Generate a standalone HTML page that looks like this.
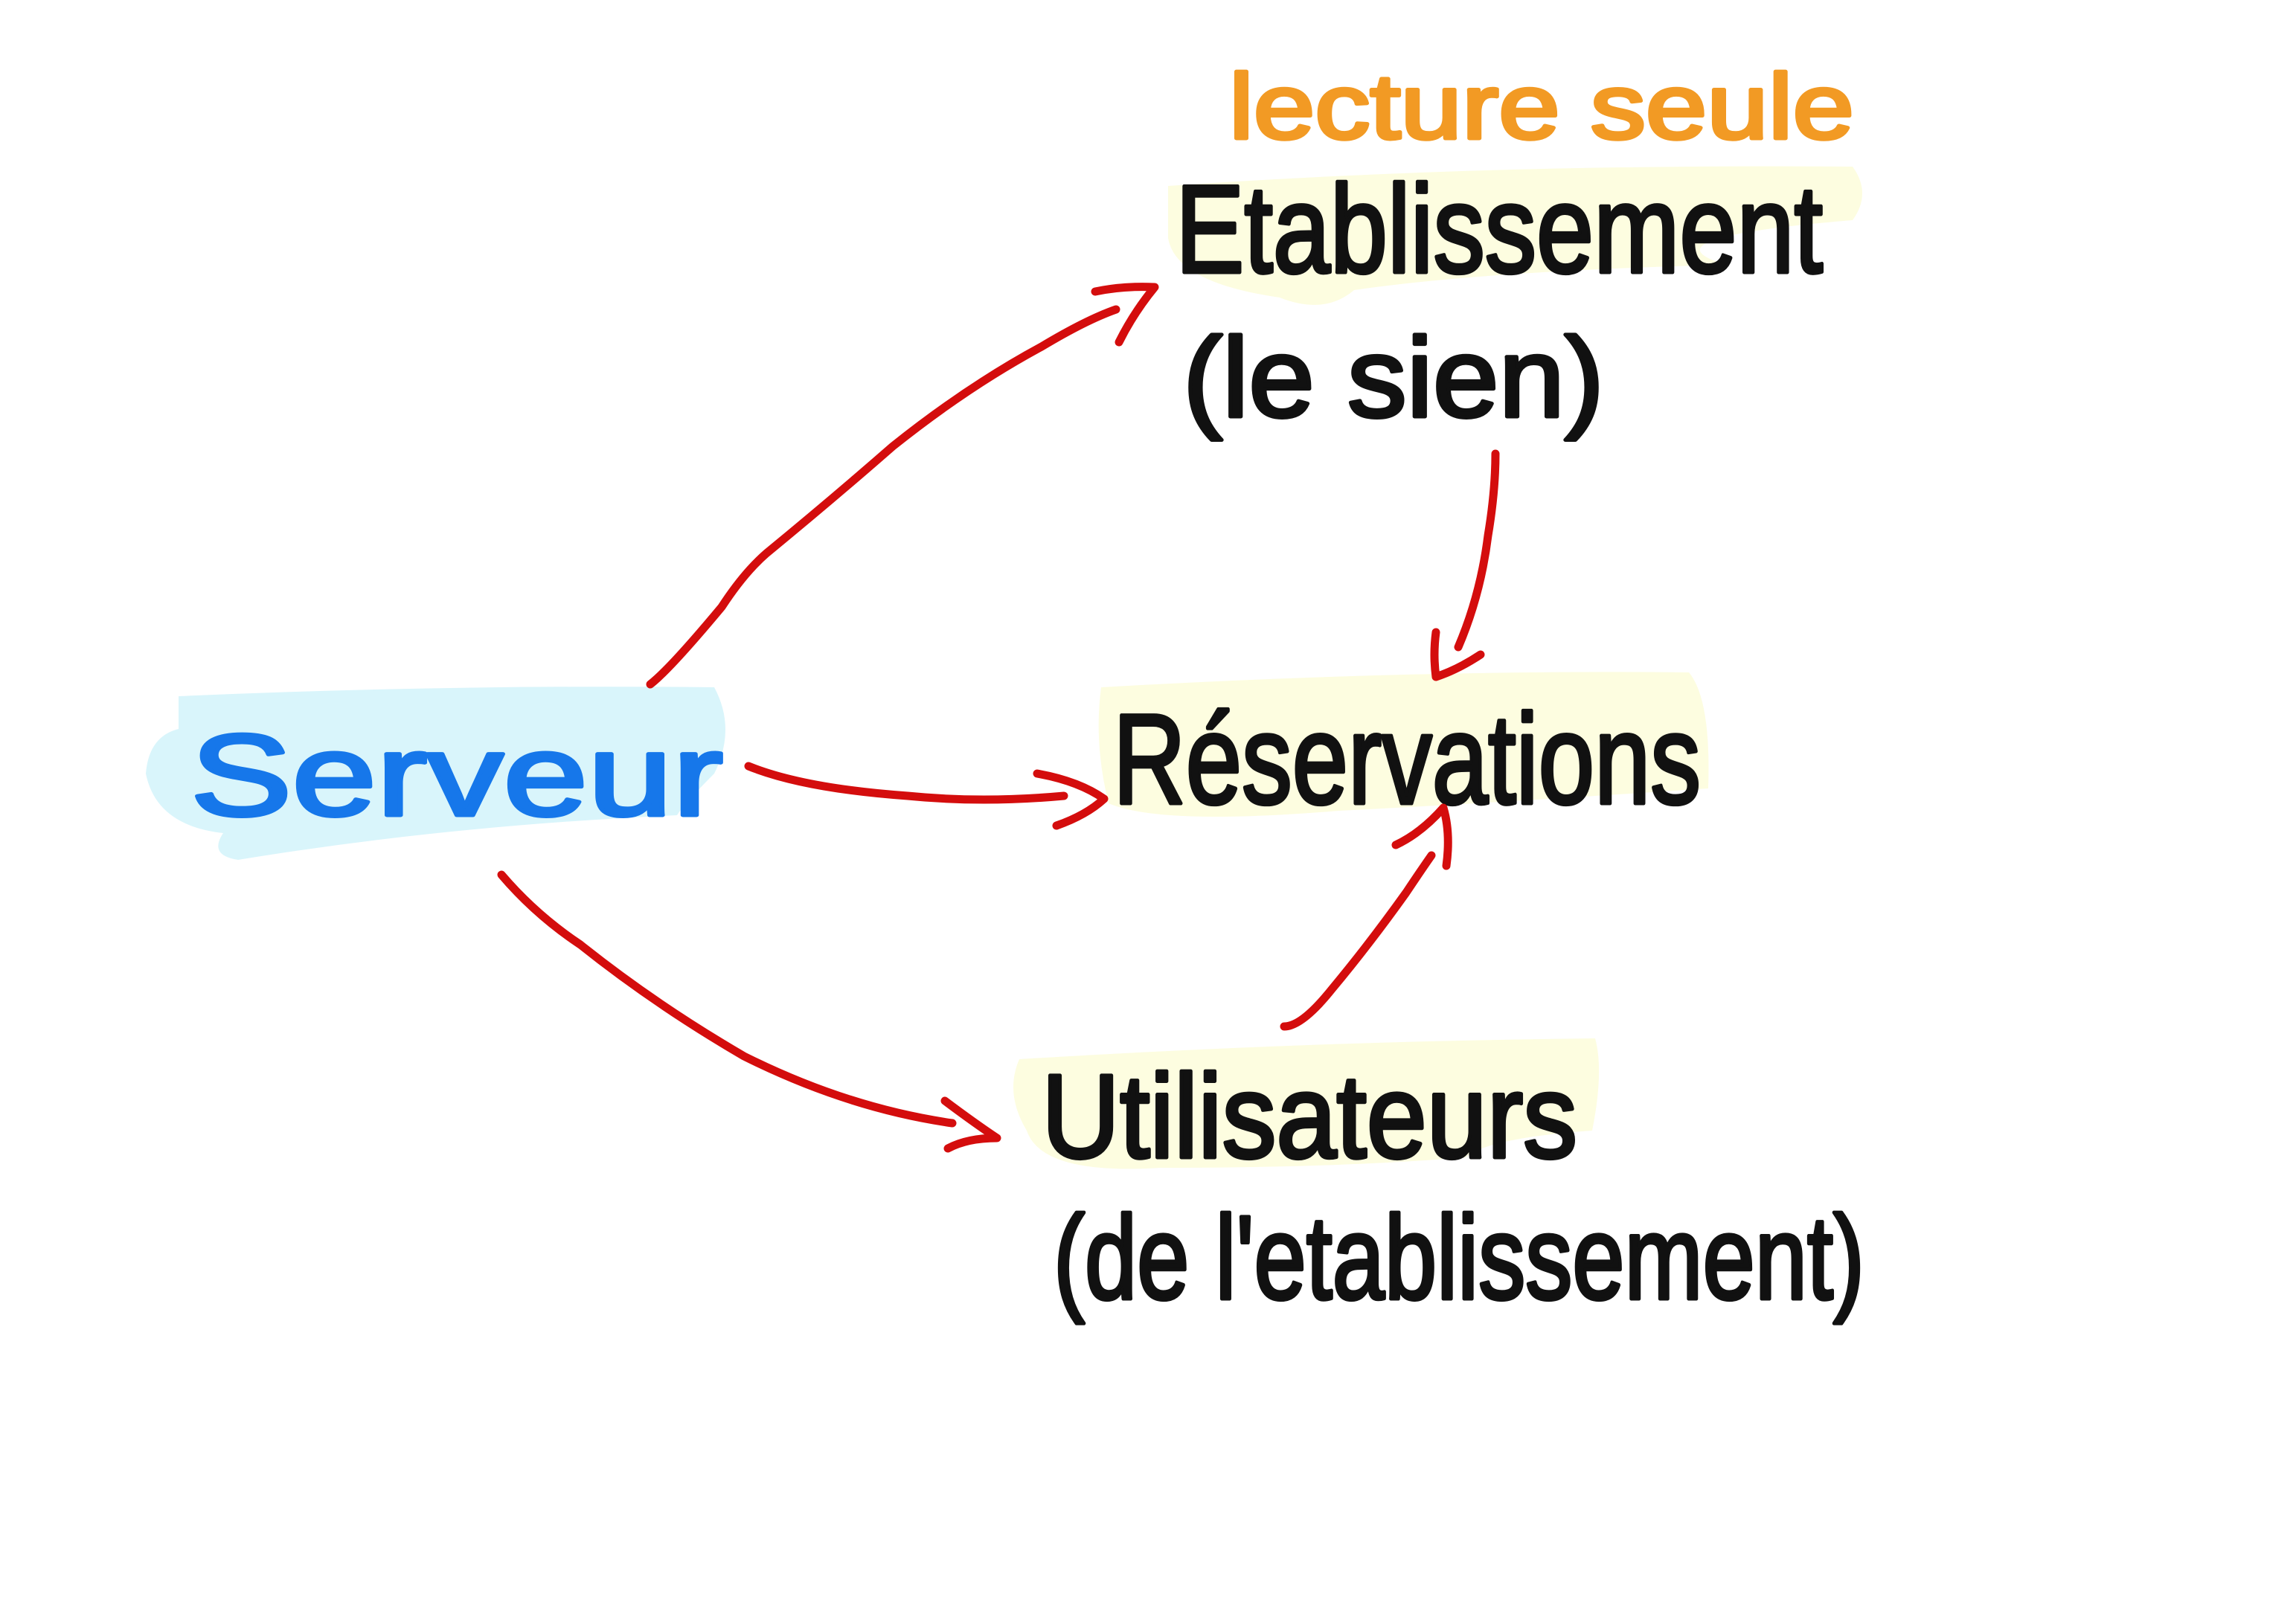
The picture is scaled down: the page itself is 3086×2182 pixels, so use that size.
<!DOCTYPE html>
<html><head><meta charset="utf-8"><style>
html,body{margin:0;padding:0;background:#fff;}
svg{display:block;}
text{font-family:"Liberation Sans",sans-serif;}
</style></head><body>
<svg width="3086" height="2182" viewBox="0 0 1543 1091" xmlns="http://www.w3.org/2000/svg">
<rect width="1543" height="1091" fill="#fff"/>
<!-- highlights -->
<path d="M785 125 Q1000 110 1245 112 Q1258 130 1245 148 Q1100 160 1160 178 Q1000 182 910 195 Q890 212 860 200 Q790 190 785 160 Z" fill="#fdfde0"/>
<path d="M740 462 Q950 450 1135 452 Q1150 470 1148 530 Q1000 540 900 545 Q780 555 745 540 Q735 500 740 462Z" fill="#fdfde0"/>
<path d="M120 468 Q300 460 480 462 Q495 490 480 520 Q460 540 455 548 Q300 555 160 578 Q140 575 150 560 Q105 555 98 520 Q100 495 120 490 Z" fill="#d9f5fb"/>
<path d="M685 712 Q880 700 1072 698 Q1078 720 1070 760 Q1000 765 985 778 Q900 785 780 785 Q700 790 690 760 Q675 735 685 712Z" fill="#fdfde0"/>
<!-- text -->
<g stroke-width="2.5" stroke-linejoin="round">
<text x="826" y="93" font-size="62" fill="#f29a24" stroke="#f29a24" textLength="420" lengthAdjust="spacingAndGlyphs">lecture   seule</text>
<text x="790" y="183" font-size="84" fill="#111" stroke="#111" textLength="435" lengthAdjust="spacingAndGlyphs">Etablissement</text>
<text x="795" y="280" font-size="76" fill="#111" stroke="#111" textLength="283" lengthAdjust="spacingAndGlyphs">(le  sien)</text>
<text x="748" y="540" font-size="86" fill="#111" stroke="#111" textLength="395" lengthAdjust="spacingAndGlyphs">Réservations</text>
<text x="128" y="548" font-size="78" fill="#1677ea" stroke="#1677ea" textLength="358" lengthAdjust="spacingAndGlyphs">Serveur</text>
<text x="700" y="778" font-size="80" fill="#111" stroke="#111" textLength="360" lengthAdjust="spacingAndGlyphs">Utilisateurs</text>
<text x="708" y="873" font-size="80" fill="#111" stroke="#111" textLength="545" lengthAdjust="spacingAndGlyphs">(de  l'etablissement)</text>
</g>
<!-- arrows -->
<g fill="none" stroke="#d40d0d" stroke-width="5.5" stroke-linecap="round" stroke-linejoin="round">
<path d="M437 460 Q450 450 485 408 Q500 385 515 372 Q560 335 600 300 Q650 260 700 233 Q730 215 750 208"/>
<path d="M736 196 Q755 192 776 193 Q762 210 752 230"/>
<path d="M503 515 Q540 530 610 535 Q660 540 715 535"/>
<path d="M697 520 Q725 525 742 537 Q730 548 710 555"/>
<path d="M337 588 Q360 615 390 635 Q440 675 500 710 Q570 745 640 755"/>
<path d="M635 740 Q655 755 670 765 Q650 765 637 772"/>
<path d="M1005 305 Q1005 330 1000 360 Q995 400 980 435"/>
<path d="M965 425 Q963 440 965 455 Q980 450 995 440"/>
<path d="M863 690 Q875 690 895 665 Q920 635 945 600 Q955 585 962 575"/>
<path d="M938 568 Q955 560 970 543 Q975 560 972 582"/>
</g>
</svg>
</body></html>
